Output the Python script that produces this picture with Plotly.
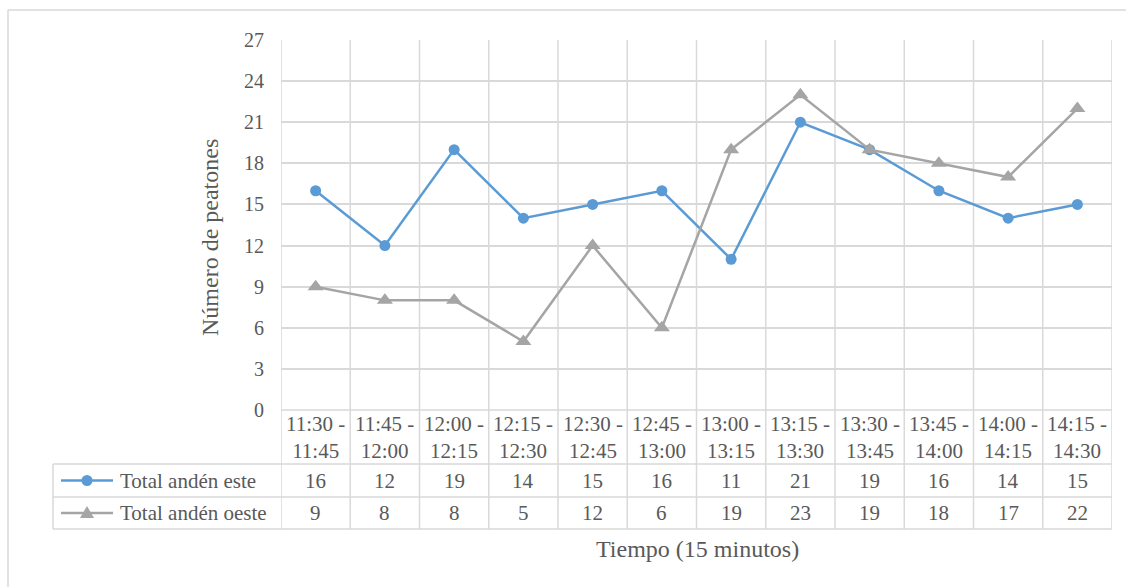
import plotly.graph_objects as go

# Time intervals (start / end of each 15-minute window)
inicio = ["11:30", "11:45", "12:00", "12:15", "12:30", "12:45",
          "13:00", "13:15", "13:30", "13:45", "14:00", "14:15"]
fin = ["11:45", "12:00", "12:15", "12:30", "12:45", "13:00",
       "13:15", "13:30", "13:45", "14:00", "14:15", "14:30"]

# Pedestrian counts per platform
este = [16, 12, 19, 14, 15, 16, 11, 21, 19, 16, 14, 15]
oeste = [9, 8, 8, 5, 12, 6, 19, 23, 19, 18, 17, 22]

series_names = ["Total andén este", "Total andén oeste"]
y_ticks = [0, 3, 6, 9, 12, 15, 18, 21, 24, 27]

W, H = 1126, 587
BLUE = "#5B9BD5"
GRAY = "#A5A5A5"
GRID = "#D9D9D9"
TXT = "#595959"
FONT = "Liberation Serif"

# plot area and data-table geometry (pixels from top-left)
PL, PR, PT, PB = 281, 1112, 40, 410
ROW_CAT_BOTTOM = 464
ROW1_BOTTOM = 497
ROW2_BOTTOM = 529
LEG_LEFT = 53


def px(x):
    return x / W


def py(y):
    return 1 - y / H


idx = list(range(len(inicio)))

fig = go.Figure()
fig.add_trace(go.Scatter(
    x=idx, y=este, mode="lines+markers", name=series_names[0],
    line=dict(color=BLUE, width=2.5),
    marker=dict(symbol="circle", size=11, color=BLUE),
    cliponaxis=False, showlegend=False,
))
fig.add_trace(go.Scatter(
    x=idx, y=oeste, mode="lines+markers", name=series_names[1],
    line=dict(color=GRAY, width=2.5),
    marker=dict(symbol="triangle-up", size=14, color=GRAY),
    cliponaxis=False, showlegend=False,
))

line_style = dict(color=GRID, width=1.5)
shapes = []


def hline(x0, x1, y):
    shapes.append(dict(type="line", xref="paper", yref="paper", x0=px(x0), x1=px(x1),
                       y0=py(y), y1=py(y), line=line_style, layer="below"))


def vline(x, y0, y1):
    shapes.append(dict(type="line", xref="paper", yref="paper", x0=px(x), x1=px(x),
                       y0=py(y0), y1=py(y1), line=line_style, layer="below"))


# outer chart frame (top and left edges)
hline(8, W, 10)
vline(8, 10, H)

# vertical category boundaries running through the table
for i in range(len(inicio) + 1):
    shapes.append(dict(type="line", xref="x", yref="paper", x0=i - 0.5, x1=i - 0.5,
                       y0=py(ROW2_BOTTOM), y1=py(PT), line=line_style, layer="below"))

# table rules
hline(PL, PR, PB)
for yy in (ROW_CAT_BOTTOM, ROW1_BOTTOM, ROW2_BOTTOM):
    hline(LEG_LEFT, PR, yy)
vline(LEG_LEFT, ROW_CAT_BOTTOM, ROW2_BOTTOM)

# legend keys inside the data table
row1_y = (ROW_CAT_BOTTOM + ROW1_BOTTOM) / 2
row2_y = (ROW1_BOTTOM + ROW2_BOTTOM) / 2
for ry, col in ((row1_y, BLUE), (row2_y, GRAY)):
    shapes.append(dict(type="line", xref="paper", yref="paper", x0=px(61), x1=px(113),
                       y0=py(ry), y1=py(ry), line=dict(color=col, width=2.5)))
shapes.append(dict(type="circle", xref="paper", yref="paper",
                   x0=px(87 - 5.5), x1=px(87 + 5.5), y0=py(row1_y + 5.5), y1=py(row1_y - 5.5),
                   fillcolor=BLUE, line=dict(color=BLUE, width=0)))
shapes.append(dict(type="path", xref="paper", yref="paper",
                   path=(f"M {px(80)} {py(row2_y + 5)} L {px(94)} {py(row2_y + 5)} "
                         f"L {px(87)} {py(row2_y - 7)} Z"),
                   fillcolor=GRAY, line=dict(color=GRAY, width=0)))

annotations = []
cell_font = dict(family=FONT, size=21, color=TXT)

# category labels and table values
for i in idx:
    annotations.append(dict(xref="x", yref="paper", x=i, y=py((PB + ROW_CAT_BOTTOM) / 2),
                            text=f"{inicio[i]} -<br>{fin[i]}", showarrow=False,
                            font=cell_font, align="center", yanchor="middle"))
    annotations.append(dict(xref="x", yref="paper", x=i, y=py(row1_y), text=str(este[i]),
                            showarrow=False, font=cell_font, yanchor="middle"))
    annotations.append(dict(xref="x", yref="paper", x=i, y=py(row2_y), text=str(oeste[i]),
                            showarrow=False, font=cell_font, yanchor="middle"))

annotations.append(dict(xref="paper", yref="paper", x=px(118), y=py(row1_y),
                        text=series_names[0], showarrow=False, font=cell_font,
                        xanchor="left", yanchor="middle"))
annotations.append(dict(xref="paper", yref="paper", x=px(118), y=py(row2_y),
                        text=series_names[1], showarrow=False, font=cell_font,
                        xanchor="left", yanchor="middle"))

# axis titles
annotations.append(dict(xref="paper", yref="paper", x=px(697), y=py(549),
                        text="Tiempo (15 minutos)", showarrow=False,
                        font=dict(family=FONT, size=24, color=TXT),
                        xanchor="center", yanchor="middle"))
annotations.append(dict(xref="paper", yref="paper", x=px(210), y=py(238),
                        text="Número de peatones", showarrow=False, textangle=-90,
                        font=dict(family=FONT, size=24, color=TXT),
                        xanchor="center", yanchor="middle"))

fig.update_layout(
    template="none",
    width=W, height=H,
    margin=dict(l=0, r=0, t=0, b=0, pad=0),
    paper_bgcolor="white",
    plot_bgcolor="white",
    font=dict(family=FONT, color=TXT),
    xaxis=dict(domain=[px(PL), px(PR)], range=[-0.5, len(inicio) - 0.5],
               showgrid=False, zeroline=False, showticklabels=False, showline=False,
               automargin=False),
    yaxis=dict(domain=[py(PB), py(PT)], range=[0, 27],
               tickvals=y_ticks, showgrid=True, gridcolor=GRID, gridwidth=1.5,
               zeroline=False, showline=False, ticks="", ticklabelstandoff=16,
               automargin=False,
               tickfont=dict(family=FONT, size=20, color=TXT)),
    shapes=shapes,
    annotations=annotations,
)

fig.write_html("out.html")
